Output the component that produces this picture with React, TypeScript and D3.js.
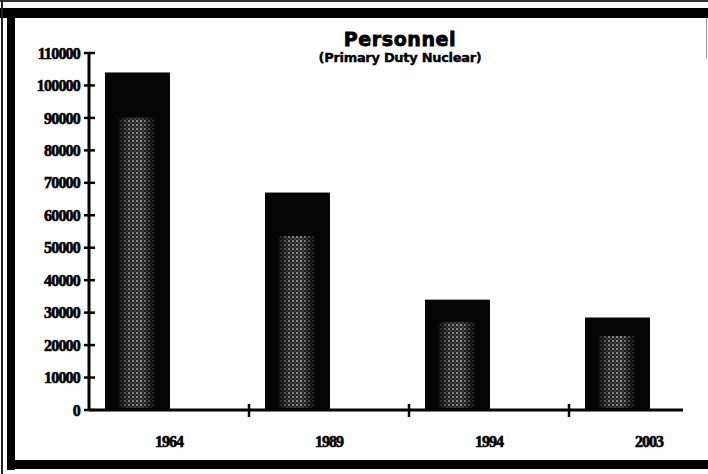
import React, { useRef, useEffect } from "react";
import * as d3 from "d3";

// Chart data
const years: string[] = ["1964", "1989", "1994", "2003"];
const personnel: number[] = [104000, 67000, 34000, 28500];
const yTickValues: number[] = [0, 10000, 20000, 30000, 40000, 50000, 60000, 70000, 80000, 90000, 100000, 110000];

const titleText = "Personnel";
const subtitleText = "(Primary Duty Nuclear)";

const WIDTH = 708;
const HEIGHT = 474;

export default function App() {
  const svgRef = useRef<SVGSVGElement>(null);

  useEffect(() => {
    if (!svgRef.current) return;

    d3.select(svgRef.current).selectAll("*").remove();

    const svg = d3
      .select(svgRef.current)
      .attr("width", WIDTH)
      .attr("height", HEIGHT);

    // background
    svg.append("rect").attr("width", WIDTH).attr("height", HEIGHT).attr("fill", "#ffffff");

    // stipple pattern + mask for the bar texture
    const defs = svg.append("defs");
    const pattern = defs
      .append("pattern")
      .attr("id", "stipple")
      .attr("width", 4)
      .attr("height", 4)
      .attr("patternUnits", "userSpaceOnUse");
    pattern.append("rect").attr("width", 4).attr("height", 4).attr("fill", "#2a2a2a");
    pattern.append("circle").attr("cx", 1).attr("cy", 1).attr("r", 0.9).attr("fill", "#d0d0d0");
    pattern.append("circle").attr("cx", 3).attr("cy", 3).attr("r", 0.7).attr("fill", "#8a8a8a");

    const hGrad = defs
      .append("linearGradient")
      .attr("id", "fadeH")
      .attr("x1", 0)
      .attr("x2", 1)
      .attr("y1", 0)
      .attr("y2", 0);
    hGrad.append("stop").attr("offset", "0%").attr("stop-color", "#fff").attr("stop-opacity", 0);
    hGrad.append("stop").attr("offset", "30%").attr("stop-color", "#fff").attr("stop-opacity", 0.8);
    hGrad.append("stop").attr("offset", "60%").attr("stop-color", "#fff").attr("stop-opacity", 0.95);
    hGrad.append("stop").attr("offset", "100%").attr("stop-color", "#fff").attr("stop-opacity", 0);

    const mask = defs
      .append("mask")
      .attr("id", "barMask")
      .attr("maskContentUnits", "objectBoundingBox");
    mask.append("rect").attr("width", 1).attr("height", 1).attr("fill", "url(#fadeH)");

    // scales
    const x = d3.scaleBand<string>().domain(years).range([89, 729]).padding(0);
    const y = d3.scaleLinear().domain([0, 110000]).range([410, 53]);

    const barOffset = 16;
    const barWidth = 65;

    // frame
    const frame = svg.append("g").attr("fill", "#000");
    frame.append("rect").attr("x", 0).attr("y", 0).attr("width", WIDTH).attr("height", 2).attr("fill", "#333");
    frame.append("rect").attr("x", 0).attr("y", 8).attr("width", WIDTH).attr("height", 10);
    frame.append("rect").attr("x", 1).attr("y", 0).attr("width", 2).attr("height", HEIGHT).attr("fill", "#222");
    frame.append("rect").attr("x", 7).attr("y", 8).attr("width", 8).attr("height", 462);
    frame.append("rect").attr("x", 7).attr("y", 460).attr("width", WIDTH - 7).attr("height", 9);
    frame.append("rect").attr("x", 706).attr("y", 18).attr("width", 1).attr("height", 40).attr("fill", "#999");

    // bars
    const bars = svg.append("g");
    bars
      .selectAll("rect.bar")
      .data(personnel)
      .join("rect")
      .attr("class", "bar")
      .attr("x", (d, i) => (x(years[i]) ?? 0) + barOffset)
      .attr("y", (d) => y(d))
      .attr("width", barWidth)
      .attr("height", (d) => y(0) - y(d))
      .attr("fill", "#050505");

    // stippled centre of each bar
    bars
      .selectAll("rect.stip")
      .data(personnel)
      .join("rect")
      .attr("class", "stip")
      .attr("x", (d, i) => (x(years[i]) ?? 0) + barOffset + barWidth * 0.18)
      .attr("y", (d) => y(d) + Math.min(45, (y(0) - y(d)) * 0.2))
      .attr("width", barWidth * 0.62)
      .attr("height", (d) => (y(0) - y(d)) - Math.min(45, (y(0) - y(d)) * 0.2) - 2)
      .attr("fill", "url(#stipple)")
      .attr("mask", "url(#barMask)");

    // y axis
    const yAxis = svg.append("g").attr("stroke", "#000");
    yAxis
      .append("line")
      .attr("x1", 89)
      .attr("x2", 89)
      .attr("y1", y(110000))
      .attr("y2", y(0))
      .attr("stroke-width", 3);
    yAxis
      .selectAll("line.tick")
      .data(yTickValues)
      .join("line")
      .attr("class", "tick")
      .attr("x1", 84)
      .attr("x2", 95)
      .attr("y1", (d) => y(d))
      .attr("y2", (d) => y(d))
      .attr("stroke-width", 2.5);

    svg
      .append("g")
      .selectAll("text")
      .data(yTickValues)
      .join("text")
      .attr("x", 80)
      .attr("y", (d) => y(d))
      .attr("dy", "0.35em")
      .attr("text-anchor", "end")
      .attr("font-family", "'Liberation Serif', 'DejaVu Serif', serif")
      .attr("font-weight", "bold")
      .attr("font-size", 16)
      .attr("letter-spacing", -0.8)
      .attr("fill", "#000")
      .attr("stroke", "#000")
      .attr("stroke-width", 0.6)
      .text((d) => String(d));

    // x axis
    const xAxis = svg.append("g").attr("stroke", "#000");
    xAxis
      .append("line")
      .attr("x1", 89)
      .attr("x2", 683)
      .attr("y1", y(0))
      .attr("y2", y(0))
      .attr("stroke-width", 3);
    xAxis
      .selectAll("line.tick")
      .data(years.slice(1))
      .join("line")
      .attr("class", "tick")
      .attr("x1", (d) => x(d) ?? 0)
      .attr("x2", (d) => x(d) ?? 0)
      .attr("y1", y(0) - 6)
      .attr("y2", y(0) + 7)
      .attr("stroke-width", 2.5);

    svg
      .append("g")
      .selectAll("text")
      .data(years)
      .join("text")
      .attr("x", (d) => (x(d) ?? 0) + x.bandwidth() / 2)
      .attr("y", 447)
      .attr("text-anchor", "middle")
      .attr("font-family", "'Liberation Serif', 'DejaVu Serif', serif")
      .attr("font-weight", "bold")
      .attr("font-size", 16)
      .attr("letter-spacing", -1)
      .attr("fill", "#000")
      .attr("stroke", "#000")
      .attr("stroke-width", 0.6)
      .text((d) => d);

    // titles
    svg
      .append("text")
      .attr("x", 400)
      .attr("y", 46)
      .attr("text-anchor", "middle")
      .attr("font-family", "'DejaVu Sans', Arial, sans-serif")
      .attr("font-weight", "bold")
      .attr("font-size", 19)
      .attr("letter-spacing", 0.6)
      .attr("fill", "#000")
      .attr("stroke", "#000")
      .attr("stroke-width", 0.8)
      .text(titleText);

    svg
      .append("text")
      .attr("x", 400)
      .attr("y", 62)
      .attr("text-anchor", "middle")
      .attr("font-family", "'DejaVu Sans', Arial, sans-serif")
      .attr("font-weight", "bold")
      .attr("font-size", 13)
      .attr("letter-spacing", -0.3)
      .attr("fill", "#000")
      .attr("stroke", "#000")
      .attr("stroke-width", 0.4)
      .text(subtitleText);
  }, []);

  return (
    <svg
      ref={svgRef}
      style={{ position: "absolute", left: 0, top: 0, display: "block" }}
    ></svg>
  );
}
